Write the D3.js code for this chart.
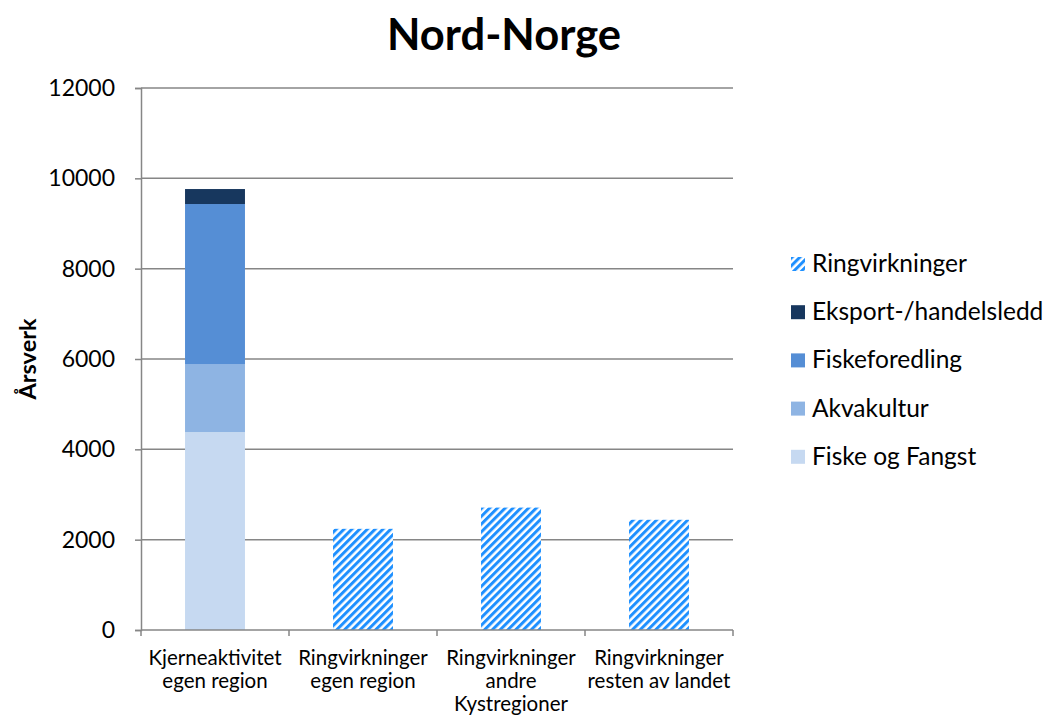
<!DOCTYPE html>
<html><head><meta charset="utf-8">
<script src="https://cdn.jsdelivr.net/npm/d3@7"></script>
<style>body{margin:0;background:#fff}svg{display:block;font-family:Lato,"Open Sans",sans-serif}</style>
</head><body>
<svg id="c" width="1046" height="718"></svg>
<script>
const categories = [["Kjerneaktivitet","egen region"],["Ringvirkninger","egen region"],["Ringvirkninger","andre","Kystregioner"],["Ringvirkninger","resten av landet"]];
const fiskeOgFangst = [4383, 0, 0, 0];
const akvakultur = [1506, 0, 0, 0];
const fiskeforedling = [3542, 0, 0, 0];
const eksport = [332, 0, 0, 0];
const ringvirkninger = [0, 2240, 2710, 2440];
const seriesNames = ["Fiske og Fangst","Akvakultur","Fiskeforedling","Eksport-/handelsledd","Ringvirkninger"];
const yTicks = [0,2000,4000,6000,8000,10000,12000];

const colors = {"Fiske og Fangst":"#C6D9F1","Akvakultur":"#8EB4E3","Fiskeforedling":"#558ED5","Eksport-/handelsledd":"#17375E","Ringvirkninger":"url(#stripes)"};

const svg = d3.select("#c");
const defs = svg.append("defs");
const pat = defs.append("pattern").attr("id","stripes").attr("patternUnits","userSpaceOnUse")
  .attr("width",5.5).attr("height",5.5).attr("patternTransform","rotate(45)");
pat.append("rect").attr("width",5.5).attr("height",5.5).attr("fill","#fff");
pat.append("rect").attr("x",0).attr("width",3).attr("height",5.5).attr("fill","#1E90FF");

const M = {l:141, r:733, t:88, b:630};
const x = d3.scaleBand().domain(d3.range(categories.length)).range([M.l, M.r]).paddingInner(0.595).paddingOuter(0.2975);
const y = d3.scaleLinear().domain([0,12000]).range([M.b, M.t]);

// gridlines
svg.append("g").selectAll("line").data(yTicks.slice(1)).join("line")
  .attr("x1",M.l).attr("x2",M.r).attr("y1",d=>y(d)).attr("y2",d=>y(d))
  .attr("stroke","#868686").attr("stroke-width",1.5);

// stacked data
const rows = categories.map((c,i)=>({i,"Fiske og Fangst":fiskeOgFangst[i],"Akvakultur":akvakultur[i],"Fiskeforedling":fiskeforedling[i],"Eksport-/handelsledd":eksport[i],"Ringvirkninger":ringvirkninger[i]}));
const stack = d3.stack().keys(seriesNames)(rows);
svg.append("g").selectAll("g").data(stack).join("g").attr("fill",d=>colors[d.key])
  .selectAll("rect").data(d=>d.filter(p=>p[1]-p[0]>0)).join("rect")
  .attr("x",d=>x(d.data.i)).attr("width",x.bandwidth())
  .attr("y",d=>y(d[1])).attr("height",d=>y(d[0])-y(d[1]));

// y axis
const ya = svg.append("g").attr("transform",`translate(${M.l},0)`)
  .call(d3.axisLeft(y).tickValues(yTicks).tickSize(6).tickPadding(20).tickFormat(d3.format("d")));
ya.select(".domain").attr("stroke","#868686").attr("stroke-width",1.5);
ya.selectAll(".tick line").attr("stroke","#868686").attr("stroke-width",1.5);
ya.selectAll("text").attr("font-size",23).attr("fill","#000").attr("font-family","Lato");

// x axis
svg.append("line").attr("x1",M.l).attr("x2",M.r).attr("y1",M.b).attr("y2",M.b).attr("stroke","#868686").attr("stroke-width",1.5);
svg.append("g").selectAll("line").data(d3.range(categories.length+1)).join("line")
  .attr("x1",d=>M.l+d*(M.r-M.l)/categories.length).attr("x2",d=>M.l+d*(M.r-M.l)/categories.length)
  .attr("y1",M.b).attr("y2",M.b+6).attr("stroke","#868686").attr("stroke-width",1.5);
const xl = svg.append("g").selectAll("text").data(categories).join("text")
  .attr("x",(d,i)=>x(i)+x.bandwidth()/2).attr("y",665).attr("text-anchor","middle")
  .attr("font-size",20.5).attr("fill","#000");
xl.selectAll("tspan").data(d=>d).join("tspan")
  .attr("x",function(){return this.parentNode.getAttribute("x");})
  .attr("dy",(d,i)=>i===0?0:23).text(d=>d);

// title
svg.append("text").attr("x",504).attr("y",50).attr("text-anchor","middle")
  .attr("font-size",43.5).attr("font-weight","bold").text("Nord-Norge");

// y title
svg.append("text").attr("transform","translate(36,359) rotate(-90)").attr("text-anchor","middle")
  .attr("font-size",23.5).attr("font-weight","bold").text("Årsverk");

// legend
const legendOrder = ["Ringvirkninger","Eksport-/handelsledd","Fiskeforedling","Akvakultur","Fiske og Fangst"];
const lg = svg.append("g").selectAll("g").data(legendOrder).join("g")
  .attr("transform",(d,i)=>`translate(791,${264+i*48.2})`);
lg.append("rect").attr("x",0).attr("y",-7).attr("width",14).attr("height",14).attr("fill",d=>colors[d]);
lg.append("text").attr("x",21).attr("y",8).attr("font-size",24.5).text(d=>d);
</script>
</body></html>
